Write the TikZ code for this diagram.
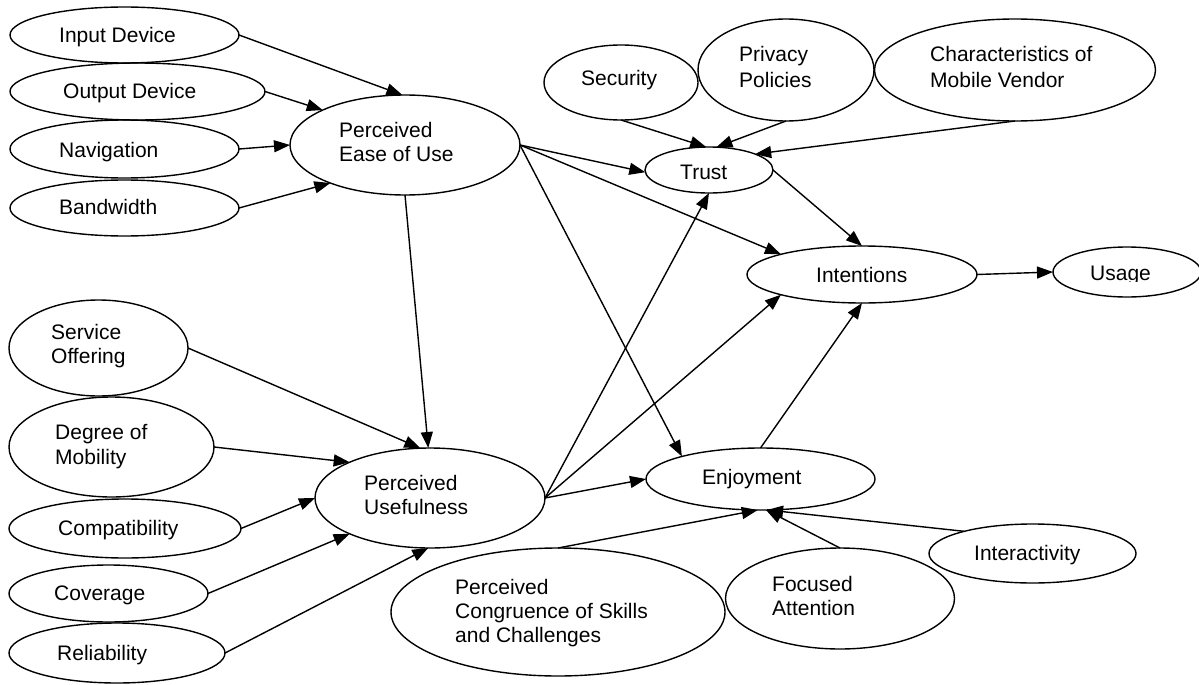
\documentclass[tikz,border=0pt]{standalone}
\usepackage{fontspec}
\setmainfont{Liberation Sans}
\usetikzlibrary{shapes.geometric,arrows.meta}
\tikzset{
  ell/.style={draw, ellipse, line width=1.4pt, inner sep=0pt, outer sep=0pt},
  lbl/.style={anchor=base west, inner sep=0pt, font=\fontsize{21}{24}\selectfont},
  arr/.style={-{Triangle[length=16pt,width=12pt]}, line width=1.4pt},
}
\begin{document}
\begin{tikzpicture}[x=1pt,y=-1pt]
\useasboundingbox (0,0) rectangle (1199,685);
\fill[white] (0,0) rectangle (1199,685);

% left top group
\node[ell, minimum width=229pt, minimum height=56pt] (input) at (124.5,35) {};
\node[lbl] (inputt) at (59,43) {Input Device};
\node[ell, minimum width=255pt, minimum height=57pt] (output) at (137.5,91.5) {};
\node[lbl] (outputt) at (63,99) {Output Device};
\node[ell, minimum width=229pt, minimum height=58pt] (nav) at (124.5,149) {};
\node[lbl] (navt) at (59,157) {Navigation};
\node[ell, minimum width=229pt, minimum height=56pt] (band) at (124.5,208) {};
\node[lbl] (bandt) at (59,214) {Bandwidth};

% left bottom group
\node[ell, minimum width=179pt, minimum height=96pt] (service) at (98.5,348) {};
\node[lbl] (servicet1) at (51,339) {Service};
\node[lbl] (servicet2) at (51,363) {Offering};
\node[ell, minimum width=205pt, minimum height=100pt] (degree) at (111.5,447) {};
\node[lbl] (degreet1) at (55,439) {Degree of};
\node[lbl] (degreet2) at (55,464) {Mobility};
\node[ell, minimum width=232pt, minimum height=59pt] (compat) at (125,528.5) {};
\node[lbl] (compatt) at (58,535) {Compatibility};
\node[ell, minimum width=199pt, minimum height=57pt] (coverage) at (108.5,593.5) {};
\node[lbl] (coveraget) at (54,600) {Coverage};
\node[ell, minimum width=216pt, minimum height=60pt] (reliab) at (117,653) {};
\node[lbl] (reliabt) at (57,660) {Reliability};

% core constructs
\node[ell, minimum width=230pt, minimum height=100pt] (peou) at (405,145) {};
\node[lbl] (peout1) at (339,137) {Perceived};
\node[lbl] (peout2) at (339,161) {Ease of Use};
\node[ell, minimum width=230pt, minimum height=100pt] (pu) at (430,498) {};
\node[lbl] (put1) at (364,490) {Perceived};
\node[lbl] (put2) at (364,514) {Usefulness};

% trust group
\node[ell, minimum width=154pt, minimum height=75pt] (security) at (621,82.5) {};
\node[lbl] (securityt) at (581,85) {Security};
\node[ell, minimum width=176pt, minimum height=102pt] (privacy) at (786,70) {};
\node[lbl] (privacyt1) at (739,62) {Privacy};
\node[lbl] (privacyt2) at (739,87) {Policies};
\node[ell, minimum width=281pt, minimum height=102pt] (charac) at (1015,70) {};
\node[lbl] (charact1) at (930,62) {Characteristics of};
\node[lbl] (charact2) at (930,87) {Mobile Vendor};
\node[ell, minimum width=128pt, minimum height=46pt] (trust) at (709,170) {};
\node[lbl] (trustt) at (680,179) {Trust};

\node[ell, minimum width=230pt, minimum height=57pt] (intent) at (862,274.5) {};
\node[lbl] (intentt) at (816,282) {Intentions};
\node[ell, minimum width=148pt, minimum height=50pt] (usage) at (1127,272) {};
\begin{scope}
  \clip (1080,250) rectangle (1165,281);
  \node[lbl] (usaget) at (1090,280) {Usage};
\end{scope}

% enjoyment group
\node[ell, minimum width=229pt, minimum height=62pt] (enjoy) at (760.5,479) {};
\node[lbl] (enjoyt) at (702,484) {Enjoyment};
\node[ell, minimum width=334pt, minimum height=128pt] (congr) at (558,612) {};
\node[lbl] (congrt1) at (455,594) {Perceived};
\node[lbl] (congrt2) at (455,618) {Congruence of Skills};
\node[lbl] (congrt3) at (455,642) {and Challenges};
\node[ell, minimum width=229pt, minimum height=101pt] (focused) at (840,598.5) {};
\node[lbl] (focusedt1) at (772,591) {Focused};
\node[lbl] (focusedt2) at (772,615) {Attention};
\node[ell, minimum width=207pt, minimum height=59pt] (interact) at (1032.5,553.5) {};
\node[lbl] (interactt) at (974,560) {Interactivity};

% connectors
\draw[arr] (input.east) -- (peou.93);
\draw[arr] (output.east) -- (peou.157);
\draw[arr] (nav.east) -- (peou.west);
\draw[arr] (band.east) -- (peou.207);
\draw[arr] (peou.south) -- (pu.92);
\draw[arr] (peou.east) -- (trust.182);
\draw[arr] (peou.east) -- (intent.166);
\draw[arr] (peou.east) -- (enjoy.164);
\draw[arr] (security.south) -- (trust.97);
\draw[arr] (privacy.south) -- (trust.72);
\draw[arr] (charac.south) -- (trust.19);
\draw[arr] (trust.east) -- (intent.north);
\draw[arr] (pu.east) -- (trust.south);
\draw[arr] (pu.east) -- (intent.194);
\draw[arr] (pu.east) -- (enjoy.west);
\draw[arr] (enjoy.north) -- (intent.south);
\draw[arr] (intent.east) -- (usage.west);
\draw[arr] (service.east) -- (pu.101);
\draw[arr] (degree.east) -- (pu.156);
\draw[arr] (compat.east) -- (pu.west);
\draw[arr] (coverage.east) -- (pu.204);
\draw[arr] (reliab.east) -- (pu.268);
\draw[arr] (congr.north) -- (enjoy.265);
\draw[arr] (focused.north) -- (enjoy.280);
\draw[arr] (interact.162) -- (enjoy.282);
\end{tikzpicture}
\end{document}
